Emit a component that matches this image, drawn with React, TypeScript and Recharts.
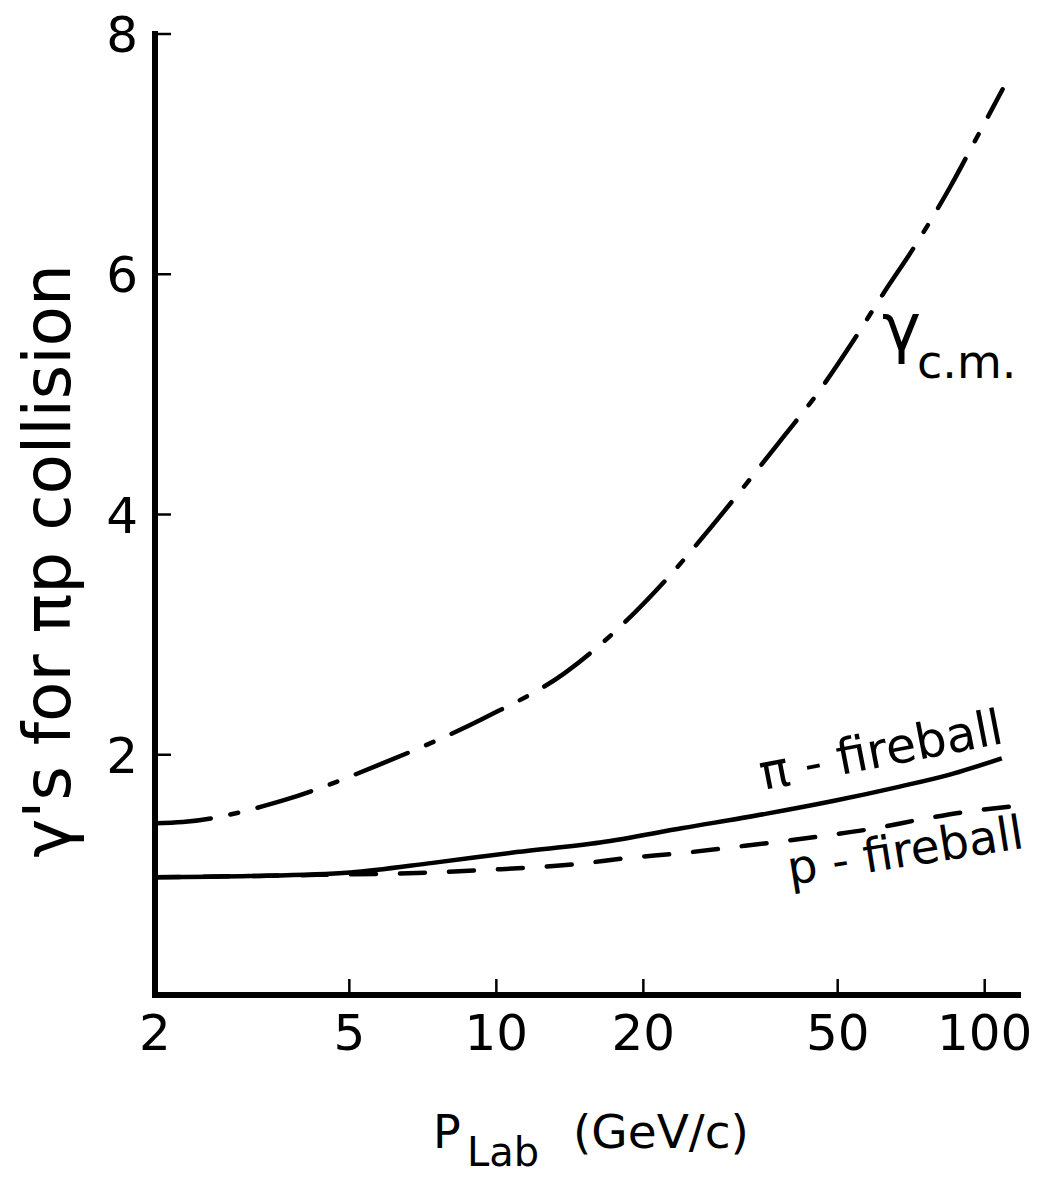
import React from 'react';
import { LineChart, Line, XAxis, YAxis } from 'recharts';

// P_Lab (GeV/c) values and gammas
const cmP = [2, 2.28, 3.66, 5.86, 9.38, 13.8, 18.3, 22.3, 26.7, 32.7, 38.6, 45.3, 53.7, 61.8, 72.6, 84.8, 96.4, 108.8];
const cmGamma = [1.43, 1.44, 1.62, 1.93, 2.3, 2.68, 3.1, 3.46, 3.83, 4.27, 4.64, 5.0, 5.44, 5.83, 6.26, 6.72, 7.14, 7.54];

const piP = [2, 3.13, 5.02, 7.41, 11.0, 16.3, 24.1, 35.8, 48.9, 67.0, 84.8, 108.4];
const piGamma = [0.98, 0.99, 1.02, 1.1, 1.19, 1.27, 1.39, 1.51, 1.615, 1.735, 1.835, 1.97];

const pP = [2, 4.29, 7.41, 9.38, 14.6, 18.5, 23.8, 30.4, 38.6, 47.7, 60.1, 73.6, 89.8, 114];
const pGamma = [0.98, 1.0, 1.02, 1.04, 1.09, 1.14, 1.18, 1.23, 1.28, 1.33, 1.39, 1.46, 1.52, 1.57];

const xTicks = [2, 5, 10, 20, 50, 100];
const yTicks = [2, 4, 6, 8];

const cmData = cmP.map((p, i) => ({ p, g: cmGamma[i] }));
const piData = piP.map((p, i) => ({ p, g: piGamma[i] }));
const pData = pP.map((p, i) => ({ p, g: pGamma[i] }));

const FONT = '"DejaVu Sans", sans-serif';
const INK = '#000';

const XTick = ({ x, y, payload }: any) => (
  <g>
    <line x1={x} x2={x} y1={y - 16} y2={y} stroke={INK} strokeWidth={2.5} />
    <text x={x} y={y + 55} textAnchor="middle" fontSize={50} fontFamily={FONT} fill={INK}>
      {payload.value}
    </text>
  </g>
);

const YTick = ({ x, y, payload }: any) => (
  <g>
    <line x1={x} x2={x + 16} y1={y} y2={y} stroke={INK} strokeWidth={2.5} />
    <text x={x - 17} y={y + 18} textAnchor="end" fontSize={50} fontFamily={FONT} fill={INK}>
      {payload.value}
    </text>
  </g>
);

export default function App() {
  return (
    <div style={{ position: 'absolute', left: 0, top: 0, background: '#fff' }}>
      <LineChart width={1046} height={1183} margin={{ top: 34, right: 28, left: 0, bottom: 0 }}>
        <XAxis
          dataKey="p"
          type="number"
          scale="log"
          domain={[2, 117]}
          ticks={xTicks}
          allowDataOverflow
          height={188}
          tickSize={0}
          tickMargin={0}
          tickLine={false}
          tick={<XTick />}
          axisLine={{ stroke: INK, strokeWidth: 6, strokeLinecap: 'square' }}
        />
        <YAxis
          type="number"
          domain={[0, 8]}
          ticks={yTicks}
          allowDataOverflow
          width={155}
          tickSize={0}
          tickMargin={0}
          tickLine={false}
          tick={<YTick />}
          axisLine={{ stroke: INK, strokeWidth: 6, strokeLinecap: 'square' }}
        />
        <Line data={cmData} dataKey="g" type="monotone" stroke={INK} strokeWidth={4.5} strokeLinecap="round"
          strokeDasharray="56 20 8 20" dot={false} activeDot={false} isAnimationActive={false} />
        <Line data={piData} dataKey="g" type="monotone" stroke={INK} strokeWidth={4.5}
          dot={false} activeDot={false} isAnimationActive={false} />
        <Line data={pData} dataKey="g" type="monotone" stroke={INK} strokeWidth={4.5} strokeLinecap="round"
          strokeDasharray="25 24" dot={false} activeDot={false} isAnimationActive={false} />

        <g fontFamily={FONT} fill={INK}>
          <text x={70} y={561} fontSize={66} textAnchor="middle" transform="rotate(-90, 70, 561)">
            γ's for πp collision
          </text>
          <text x={433} y={1148} fontSize={46}>
            P
            <tspan x={467} y={1166} fontSize={40}>Lab</tspan>
            <tspan x={573} y={1148} fontSize={47}>(GeV/c)</tspan>
          </text>
          <text x={882} y={350} fontSize={66}>γ</text>
          <text x={917} y={378} fontSize={46}>c.m.</text>
          <text x={763} y={790} fontSize={49} transform="rotate(-11, 763, 790)">π - fireball</text>
          <text x={790} y={885} fontSize={47} transform="rotate(-9, 790, 885)">p - fireball</text>
        </g>
      </LineChart>
    </div>
  );
}
